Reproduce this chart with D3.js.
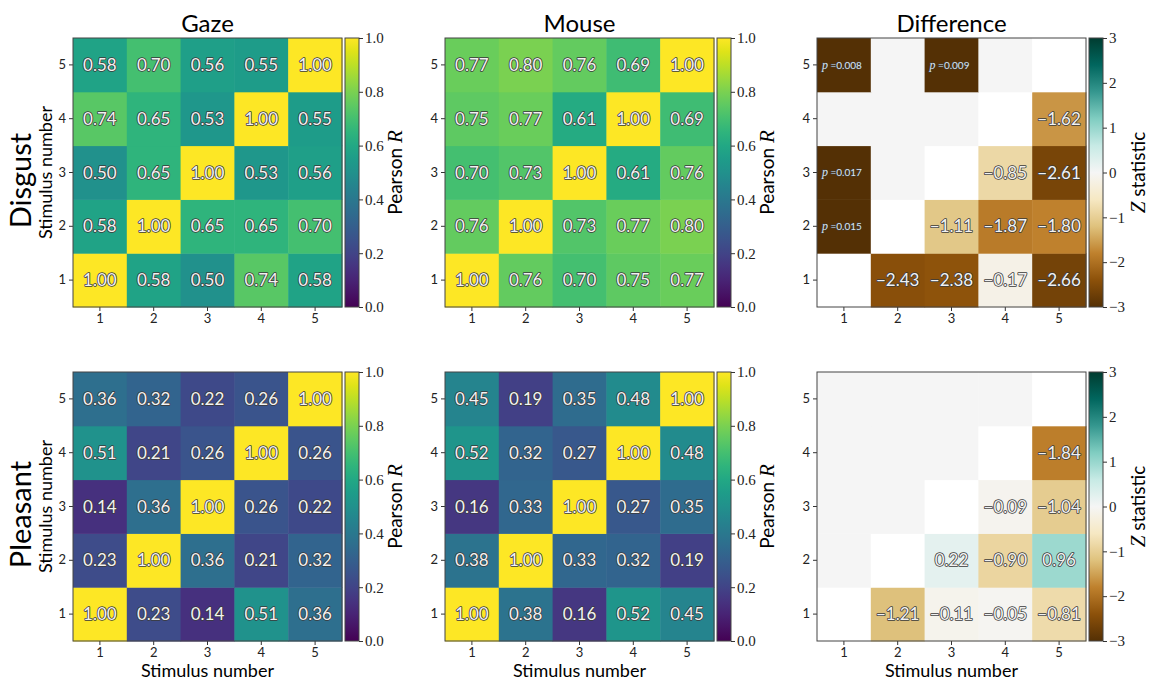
<!DOCTYPE html>
<html>
<head>
<meta charset="utf-8">
<script src="https://cdn.jsdelivr.net/npm/d3@7"></script>
<style>
  body { margin: 0; background: #fff; }
  svg text { font-family: Lato, "Open Sans", sans-serif; }
  .tick text { fill: #222; }
  .cb .tick text { font-family: "Liberation Serif", serif; }
  .cell-label { fill: #f2f2f2; stroke: #3a3a3a; stroke-width: 1.6px; paint-order: stroke; stroke-linejoin: round; }
</style>
</head>
<body>
<div id="chart"></div>
<script>
// stimulus numbers on both axes
var stimuli = [1, 2, 3, 4, 5];
var rowNames = ["Disgust", "Pleasant"];
var colTitles = ["Gaze", "Mouse", "Difference"];
var rTicks = [0, 0.2, 0.4, 0.6, 0.8, 1.0];
var zTicks = [-3, -2, -1, 0, 1, 2, 3];

// correlation matrices, row k = stimulus k+1 on the y axis
var gazeDisgust = [
  [1.00, 0.58, 0.50, 0.74, 0.58],
  [0.58, 1.00, 0.65, 0.65, 0.70],
  [0.50, 0.65, 1.00, 0.53, 0.56],
  [0.74, 0.65, 0.53, 1.00, 0.55],
  [0.58, 0.70, 0.56, 0.55, 1.00]
];
var mouseDisgust = [
  [1.00, 0.76, 0.70, 0.75, 0.77],
  [0.76, 1.00, 0.73, 0.77, 0.80],
  [0.70, 0.73, 1.00, 0.61, 0.76],
  [0.75, 0.77, 0.61, 1.00, 0.69],
  [0.77, 0.80, 0.76, 0.69, 1.00]
];
var gazePleasant = [
  [1.00, 0.23, 0.14, 0.51, 0.36],
  [0.23, 1.00, 0.36, 0.21, 0.32],
  [0.14, 0.36, 1.00, 0.26, 0.22],
  [0.51, 0.21, 0.26, 1.00, 0.26],
  [0.36, 0.32, 0.22, 0.26, 1.00]
];
var mousePleasant = [
  [1.00, 0.38, 0.16, 0.52, 0.45],
  [0.38, 1.00, 0.33, 0.32, 0.19],
  [0.16, 0.33, 1.00, 0.27, 0.35],
  [0.52, 0.32, 0.27, 1.00, 0.48],
  [0.45, 0.19, 0.35, 0.48, 1.00]
];

// Z statistics (x > y) and significant p values (y > x); null = none
var zDisgust = [
  [null, -2.43, -2.38, -0.17, -2.66],
  [null, null, -1.11, -1.87, -1.80],
  [null, null, null, -0.85, -2.61],
  [null, null, null, null, -1.62],
  [null, null, null, null, null]
];
var pDisgust = [
  [null, null, null, null, null],
  [0.015, null, null, null, null],
  [0.017, null, null, null, null],
  [null, null, null, null, null],
  [0.008, null, 0.009, null, null]
];
var zPleasant = [
  [null, -1.21, -0.11, -0.05, -0.81],
  [null, null, 0.22, -0.90, 0.96],
  [null, null, null, -0.09, -1.04],
  [null, null, null, null, -1.84],
  [null, null, null, null, null]
];
var pPleasant = [
  [null, null, null, null, null],
  [null, null, null, null, null],
  [null, null, null, null, null],
  [null, null, null, null, null],
  [null, null, null, null, null]
];

var W = 1151, H = 684;
var colX = [73, 445, 817], rowY = [38, 372], size = 269;
var cbGap = 3, cbW = 14;

var svg = d3.select("#chart").append("svg")
  .attr("width", W).attr("height", H);
var defs = svg.append("defs");

var x = d3.scaleBand().domain(stimuli).range([0, size]);
var y = d3.scaleBand().domain(stimuli).range([size, 0]);
var rColor = d3.scaleSequential(d3.interpolateViridis).domain([0, 1]);
// BrBG as a piecewise scale through the 11 brewer colours
var brbg = d3.schemeBrBG[11];
var zColor = d3.scaleLinear()
  .domain(brbg.map(function(_, i) { return -3 + i * 0.6; }))
  .range(brbg)
  .interpolate(d3.interpolateRgb);

function cells(m) {
  var out = [];
  m.forEach(function(row, i) {
    row.forEach(function(v, j) { out.push({ i: i, j: j, v: v }); });
  });
  return out;
}

function panel(r, c) {
  var g = svg.append("g")
    .attr("transform", "translate(" + colX[c] + "," + rowY[r] + ")");

  var data, fill;
  if (c < 2) {
    var m = [[gazeDisgust, mouseDisgust], [gazePleasant, mousePleasant]][r][c];
    data = cells(m);
    fill = function(d) { return rColor(d.v); };
  } else {
    var zm = [zDisgust, zPleasant][r], pm = [pDisgust, pPleasant][r];
    data = cells(zm).map(function(d) { d.p = pm[d.i][d.j]; return d; });
    fill = function(d) {
      if (d.i === d.j) return "#fff";
      if (d.j > d.i) return zColor(d.v);
      return d.p != null ? zColor(-3) : zColor(0);
    };
  }

  g.selectAll("rect.cell").data(data).enter().append("rect")
    .attr("class", "cell")
    .attr("x", function(d) { return x(stimuli[d.j]); })
    .attr("y", function(d) { return y(stimuli[d.i]); })
    .attr("width", x.bandwidth() + 0.5)
    .attr("height", y.bandwidth() + 0.5)
    .attr("fill", fill);

  var numbers = data.filter(function(d) { return d.v != null; });
  g.selectAll("text.cell-label").data(numbers).enter().append("text")
    .attr("class", "cell-label")
    .attr("x", function(d) { return x(stimuli[d.j]) + x.bandwidth() / 2; })
    .attr("y", function(d) { return y(stimuli[d.i]) + y.bandwidth() / 2; })
    .attr("dy", "0.36em")
    .attr("text-anchor", "middle")
    .style("font-size", "17px")
    .text(function(d) { return d3.format(".2f")(d.v); });

  if (c === 2) {
    var ps = data.filter(function(d) { return d.p != null; });
    var pt = g.selectAll("text.p-label").data(ps).enter().append("text")
      .attr("class", "cell-label")
      .attr("x", function(d) { return x(stimuli[d.j]) + x.bandwidth() / 2 - 2; })
      .attr("y", function(d) { return y(stimuli[d.i]) + y.bandwidth() / 2; })
      .attr("dy", "0.36em")
      .attr("text-anchor", "middle")
      .style("font-size", "10px")
      .style("stroke-width", "1px")
      .style("fill", "#dde3ea");
    pt.append("tspan").style("font-family", "'Liberation Serif', serif")
      .style("font-style", "italic").style("font-size", "12px").text("p");
    pt.append("tspan").text(" =");
    pt.append("tspan").text(function(d) { return d3.format(".3f")(d.p); });
  }

  // axes
  var xa = g.append("g").attr("transform", "translate(0," + size + ")")
    .call(d3.axisBottom(x).tickSize(4).tickPadding(3));
  var ya = g.append("g")
    .call(d3.axisLeft(y).tickSize(4).tickPadding(3));
  [xa, ya].forEach(function(a) {
    a.select(".domain").remove();
    a.selectAll(".tick line").attr("stroke", "#333");
    a.selectAll(".tick text").style("font-size", "13px");
  });

  g.append("rect")
    .attr("width", size).attr("height", size)
    .attr("fill", "none").attr("stroke", "#444").attr("stroke-width", 1);

  if (r === 0) {
    g.append("text")
      .attr("x", size / 2).attr("y", -6)
      .attr("text-anchor", "middle")
      .style("font-size", "24px")
      .text(colTitles[c]);
  }
  if (r === 1) {
    g.append("text")
      .attr("x", size / 2).attr("y", size + 36)
      .attr("text-anchor", "middle")
      .style("font-size", "18px")
      .text("Stimulus number");
  }
  if (c === 0) {
    g.append("text")
      .attr("transform", "translate(-21," + (size / 2) + ") rotate(-90)")
      .attr("text-anchor", "middle")
      .style("font-size", "18px")
      .text("Stimulus number");
    g.append("text")
      .attr("transform", "translate(-42," + (size / 2 + 8) + ") rotate(-90)")
      .attr("text-anchor", "middle")
      .style("font-size", "29px")
      .text(rowNames[r]);
  }

  colorbar(g, r, c);
}

function colorbar(g, r, c) {
  var isZ = c === 2;
  var cb = g.append("g").attr("class", "cb")
    .attr("transform", "translate(" + (size + cbGap) + ",0)");
  var gid = "grad" + r + c;
  var grad = defs.append("linearGradient")
    .attr("id", gid).attr("x1", 0).attr("y1", 1).attr("x2", 0).attr("y2", 0);
  d3.range(0, 1.0001, 0.05).forEach(function(t) {
    grad.append("stop").attr("offset", t)
      .attr("stop-color", isZ ? zColor(-3 + 6 * t) : rColor(t));
  });
  cb.append("rect")
    .attr("width", cbW).attr("height", size)
    .attr("fill", "url(#" + gid + ")")
    .attr("stroke", "#444").attr("stroke-width", 1);

  var s = d3.scaleLinear().domain(isZ ? [-3, 3] : [0, 1]).range([size, 0]);
  var ax = cb.append("g").attr("transform", "translate(" + cbW + ",0)")
    .call(d3.axisRight(s)
      .tickValues(isZ ? zTicks : rTicks)
      .tickSize(4).tickPadding(2)
      .tickFormat(isZ ? function(d) { return d < 0 ? "\u2212" + (-d) : d; } : d3.format(".1f")));
  ax.select(".domain").remove();
  ax.selectAll(".tick line").attr("stroke", "#333");
  ax.selectAll(".tick text").style("font-size", "15px");

  var lab = cb.append("text")
    .attr("transform", "translate(" + (isZ ? 56 : 57) + "," + (size / 2) + ") rotate(-90)")
    .attr("text-anchor", "middle")
    .style("font-size", "19px");
  if (isZ) {
    lab.append("tspan").style("font-family", "'Liberation Serif', serif")
      .style("font-style", "italic").style("font-size", "21px").text("Z");
    lab.append("tspan").text(" statistic");
  } else {
    lab.append("tspan").text("Pearson ");
    lab.append("tspan").style("font-family", "'Liberation Serif', serif")
      .style("font-style", "italic").style("font-size", "21px").text("R");
  }
}

[0, 1].forEach(function(r) {
  [0, 1, 2].forEach(function(c) { panel(r, c); });
});
</script>
</body>
</html>
